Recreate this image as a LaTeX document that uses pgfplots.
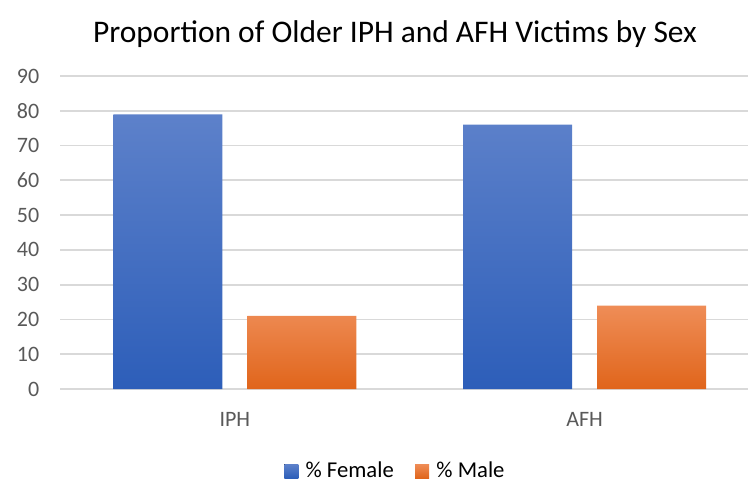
\documentclass[border=0pt]{standalone}
\usepackage{fontspec}
\setmainfont{Carlito}
\usepackage{pgfplots}
\pgfplotsset{compat=1.18}
\definecolor{blueT}{HTML}{5D81CA}
\definecolor{blueB}{HTML}{2D5EB9}
\definecolor{oraT}{HTML}{EF8D57}
\definecolor{oraM}{HTML}{F47B25}
\definecolor{oraB}{HTML}{E0651B}
\definecolor{lbl}{HTML}{595959}
\definecolor{grd}{HTML}{D9D9D9}
\begin{document}
\begin{tikzpicture}
\useasboundingbox (0,0) rectangle (561pt,362.25pt);
\node[anchor=base, font=\fontsize{23.6}{28}\selectfont] at (296.25pt,330pt) {Proportion of Older IPH and AFH Victims by Sex};
\begin{axis}[
  at={(45pt,70.5pt)}, anchor=south west,
  scale only axis, width=516pt, height=234.75pt,
  xmin=-0.5, xmax=1.467, ymin=0, ymax=90,
  ytick={0,10,...,90},
  xtick={0,1}, xticklabels={IPH,AFH},
  ybar, bar width=81.75pt,
  axis line style={draw=none},
  major tick length=0pt,
  ymajorgrids, grid style={draw=grd, line width=1.3pt},
  tick label style={font=\fontsize{16.5}{19}\selectfont, text=lbl},
  /pgf/number format/assume math mode=true,
  yticklabel style={xshift=-12pt},
  xticklabel style={yshift=-14pt},
  legend style={at={(0.488,-0.262)}, anchor=center, draw=none, inner sep=0pt, legend columns=2,
    font=\fontsize{17}{20}\selectfont, text=black,
    nodes={inner sep=2pt},
    /tikz/every even column/.append style={column sep=14pt}},
  legend image code/.code={\fill[#1] (0pt,-5.25pt) rectangle (10.5pt,5.25pt);\path (14pt,0pt);},
]
\addplot[draw=none, top color=blueT, bottom color=blueB, bar shift=-50.25pt] coordinates {(0,79) (1,76)};
\addplot[draw=none, top color=oraT, middle color=oraM, bottom color=oraB, bar shift=50.25pt] coordinates {(0,21) (1,24)};
\legend{\% Female, \% Male}
\end{axis}
\end{tikzpicture}
\end{document}
